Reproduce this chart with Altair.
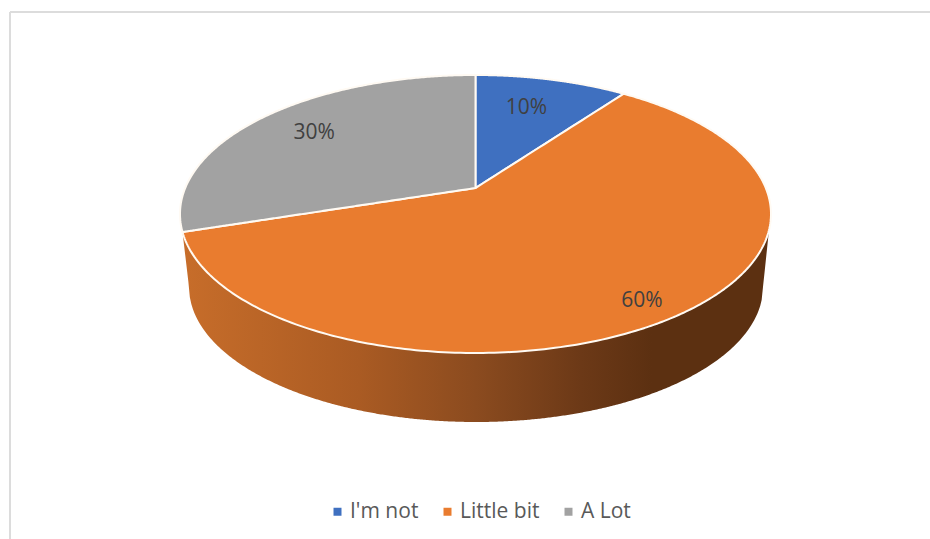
import altair as alt
import numpy as np
import pandas as pd

# Survey shares, clockwise from twelve o'clock
categories = ["I'm not", "Little bit", "A Lot"]
shares = [10, 60, 30]
share_labels = ["10%", "60%", "30%"]
slice_colors = ["#3f70c0", "#e97c2f", "#a2a2a2"]
label_angles = [16.0, 145.3, 307.4]
label_radii = [0.718, 0.872, 0.76]

# Tilted-disc geometry: top ellipse, and how far the far side is foreshortened
CX, CY, RX, RY = 475.5, 214.0, 295.5, 139.0
TILT = 0.187
BASE_CY, BASE_RX, BASE_RY = 287.0, 287.0, 135.0


def project(angle_deg, radius=1.0):
    """Map a point of the flat pie (clockwise degrees from top) to the tilted disc."""
    a = np.radians(angle_deg)
    u, v = radius * np.sin(a), radius * np.cos(a)
    d = 1 + TILT * v
    return CX + RX * u * np.sqrt(1 - TILT**2) / d, CY - RY * (v + TILT) / d


def slice_outline(start, end):
    """Outline of one slice, returned as x with upper and lower y for an area mark."""
    rx_, ry_ = project(np.linspace(start, end, 240))
    ax, ay = project(0.0, 0.0)
    px = np.concatenate([[ax], rx_, [ax]])
    py = np.concatenate([[ay], ry_, [ay]])
    xs = np.unique(px[:-1])
    top, bottom = [], []
    for x in xs:
        hits = []
        for i in range(len(px) - 1):
            x0, x1 = px[i], px[i + 1]
            if x0 != x1 and min(x0, x1) <= x <= max(x0, x1):
                hits.append(py[i] + (x - x0) / (x1 - x0) * (py[i + 1] - py[i]))
        top.append(min(hits))
        bottom.append(max(hits))
    return xs, np.array(top), np.array(bottom)


frames = []
start = 0.0
for name, share in zip(categories, shares):
    end = start + share * 3.6
    xs, top, bottom = slice_outline(start, end)
    frames.append(pd.DataFrame({"x": xs, "y": top, "y2": bottom, "category": name}))
    start = end
slices = pd.concat(frames, ignore_index=True)

label_x, label_y = project(np.array(label_angles), np.array(label_radii))
labels = pd.DataFrame({"x": label_x, "y": label_y, "text": share_labels})

# Side wall below the front rim, with its short silhouette edges at each end
wall_left, _ = project(252.0)
wall_right = 769.0
wall_x = np.linspace(wall_left, wall_right, 400)
wall_top = CY + RY * np.sqrt(np.clip(1 - ((wall_x - CX) / RX) ** 2, 0, 1))
base = BASE_CY + BASE_RY * np.sqrt(np.clip(1 - ((wall_x - 476) / BASE_RX) ** 2, 0, 1))
wall_bottom = np.where(
    wall_x < 189,
    wall_top[0] + (wall_x - wall_left) / (189 - wall_left) * (BASE_CY - wall_top[0]),
    np.where(
        wall_x > 763,
        wall_top[-1] + (wall_right - wall_x) / (wall_right - 763) * (BASE_CY - wall_top[-1]),
        base,
    ),
)
wall = pd.DataFrame({"x": wall_x, "y": wall_top, "y2": wall_bottom})

x_scale = alt.Scale(domain=[0, 930])
y_scale = alt.Scale(domain=[539, 0])
x_enc = alt.X("x:Q", scale=x_scale, axis=None)
y_enc = alt.Y("y:Q", scale=y_scale, axis=None)

frame_top = alt.Chart(pd.DataFrame({"k": [0]})).mark_rule(color="#dcdcdc", strokeWidth=2).encode(
    x=alt.value(10), x2=alt.value(930), y=alt.value(12)
)
frame_left = alt.Chart(pd.DataFrame({"k": [0]})).mark_rule(color="#dcdcdc", strokeWidth=2).encode(
    x=alt.value(10), y=alt.value(12), y2=alt.value(539)
)

wall_layer = alt.Chart(wall).mark_area(
    color=alt.Gradient(
        gradient="linear",
        x1=0, x2=1, y1=0, y2=0,
        stops=[
            alt.GradientStop(offset=0.0, color="#c76d2a"),
            alt.GradientStop(offset=0.3, color="#aa5b23"),
            alt.GradientStop(offset=0.5, color="#8b4b1f"),
            alt.GradientStop(offset=0.68, color="#6c3917"),
            alt.GradientStop(offset=0.8, color="#5c3011"),
            alt.GradientStop(offset=1.0, color="#5c3011"),
        ],
    )
).encode(x=x_enc, y=y_enc, y2="y2:Q")

slice_layer = alt.Chart(slices).mark_area(stroke="#fffaf3", strokeWidth=2).encode(
    x=x_enc,
    y=y_enc,
    y2="y2:Q",
    color=alt.Color(
        "category:N",
        scale=alt.Scale(domain=categories, range=slice_colors),
        sort=categories,
        legend=alt.Legend(
            title=None,
            orient="none",
            legendX=327,
            legendY=501,
            direction="horizontal",
            symbolType="square",
            symbolSize=64,
            symbolStrokeWidth=0,
            labelFont="Open Sans",
            labelFontSize=21,
            labelColor="#595959",
            labelOffset=2,
            columnPadding=18,
        ),
    ),
)

text_layer = alt.Chart(labels).mark_text(
    font="Open Sans", fontSize=21, color="#404040", dy=1.5
).encode(x=x_enc, y=y_enc, text="text:N")

chart = (
    alt.layer(frame_top, frame_left, wall_layer, slice_layer, text_layer)
    .properties(width=930, height=539, padding=0, autosize=alt.AutoSizeParams(type="none"))
    .configure_view(stroke=None)
)

chart.save("out.html", embed_options={"renderer": "svg", "actions": False})
